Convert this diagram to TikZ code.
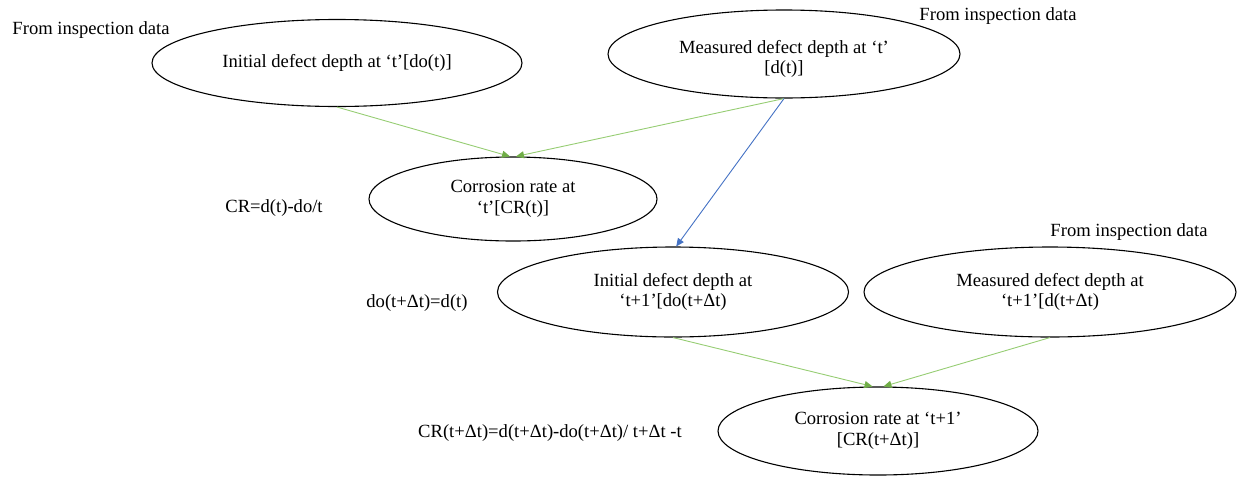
\documentclass[tikz,border=0pt]{standalone}
\usepackage{fontspec}
\setmainfont{Liberation Serif}
\usetikzlibrary{shapes.geometric,arrows.meta}

\definecolor{linkgreen}{RGB}{150,205,115}
\definecolor{headgreen}{RGB}{112,173,71}
\definecolor{linkblue}{RGB}{68,114,196}

\tikzset{
  oval/.style={ellipse, draw=black, line width=1.1pt, inner sep=0pt,
    align=center, font=\fontsize{18.6}{20.5}\selectfont},
  note/.style={inner sep=0pt, font=\fontsize{18.6}{20.5}\selectfont},
  greenlink/.style={draw=linkgreen, line width=0.9pt,
    -{Triangle[length=8pt,width=7pt,color=headgreen]}},
  bluelink/.style={draw=linkblue, line width=0.9pt,
    -{Triangle[length=8pt,width=7pt,color=linkblue]}}
}

\begin{document}
\begin{tikzpicture}[x=1pt,y=-1pt]
  \useasboundingbox (0,0) rectangle (1238,477);

  % inspection stages
  \node[oval, minimum width=370pt, minimum height=87pt] (e1) at (337,63)
    {Initial defect depth at ‘t’[do(t)]};
  % the strut lowers the two text lines a little inside this oval
  \node[oval, minimum width=352pt, minimum height=88pt] (e2) at (784,54)
    {\rule{0pt}{23pt}Measured defect depth at ‘t’\\{[d(t)]}};
  \node[oval, minimum width=288pt, minimum height=84pt] (e3) at (513,199)
    {Corrosion rate at\\‘t’[CR(t)]};
  \node[oval, minimum width=351pt, minimum height=90pt] (e4) at (673,292)
    {Initial defect depth at\\‘t+1’[do(t+Δt)};
  \node[oval, minimum width=372pt, minimum height=90pt] (e5) at (1050,292)
    {Measured defect depth at\\‘t+1’[d(t+Δt)};
  \node[oval, minimum width=320pt, minimum height=88pt] (e6) at (878,431)
    {Corrosion rate at ‘t+1’\\{[CR(t+Δt)]}};

  % side notes
  \node[note] (src1) at (91,30) {From inspection data};
  \node[note] (src2) at (998,16) {From inspection data};
  \node[note] (src3) at (1129,232) {From inspection data};
  \node[note] (eq1) at (274,208) {CR=d(t)-do/t};
  \node[note] (eq2) at (417,303) {do(t+Δt)=d(t)};
  \node[note] (eq3) at (550,433) {CR(t+Δt)=d(t+Δt)-do(t+Δt)/ t+Δt -t};

  % connectors
  \draw[greenlink] (e1.south) -- (e3.94);
  \draw[greenlink] (e2.south) -- (e3.86);
  \draw[bluelink]  (e2.south) -- (e4.86);
  \draw[greenlink] (e4.south) -- (e6.97);
  \draw[greenlink] (e5.south) -- (e6.83);
\end{tikzpicture}
\end{document}
